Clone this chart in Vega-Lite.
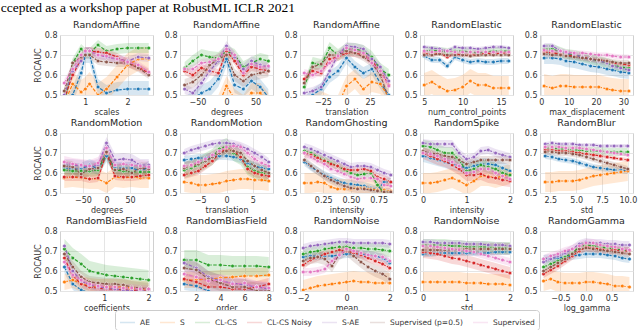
{
"$schema": "https://vega.github.io/schema/vega-lite/v6.json",
"padding": {"left": 0, "top": 0, "right": 0, "bottom": 0},
"title": {"text": "ccepted as a workshop paper at RobustML ICLR 2021", "anchor": "start", "font": "Liberation Serif", "fontSize": 13.5, "fontWeight": "normal", "color": "black", "dx": -33, "dy": -3, "offset": 2},
"bounds": "full",
"spacing": 0,
"resolve": {"scale": {"x": "independent", "y": "independent", "color": "shared"}, "axis": {"x": "independent", "y": "independent"}, "legend": {"color": "shared"}},
"vconcat": [
{"hconcat": [
{"title": "RandomAffine", "width": 93, "height": 60,
"data": {"values": [
{"s":"AE","x":0.5,"y":0.42},{"s":"AE","x":0.7,"y":0.5},{"s":"AE","x":0.9,"y":0.61},{"s":"AE","x":1,"y":0.7},{"s":"AE","x":1.1,"y":0.7},{"s":"AE","x":1.3,"y":0.54},{"s":"AE","x":1.5,"y":0.51},{"s":"AE","x":1.75,"y":0.525},{"s":"AE","x":2,"y":0.53},{"s":"AE","x":2.25,"y":0.53},{"s":"AE","x":2.5,"y":0.53},
{"s":"S","x":0.5,"y":0.46},{"s":"S","x":0.7,"y":0.555},{"s":"S","x":0.9,"y":0.515},{"s":"S","x":1,"y":0.53},{"s":"S","x":1.1,"y":0.555},{"s":"S","x":1.3,"y":0.5},{"s":"S","x":1.5,"y":0.53},{"s":"S","x":1.75,"y":0.59},{"s":"S","x":2,"y":0.65},{"s":"S","x":2.25,"y":0.68},{"s":"S","x":2.5,"y":0.68},
{"s":"C","x":0.5,"y":0.45},{"s":"C","x":0.7,"y":0.66},{"s":"C","x":0.9,"y":0.73},{"s":"C","x":1,"y":0.71},{"s":"C","x":1.1,"y":0.71},{"s":"C","x":1.3,"y":0.75},{"s":"C","x":1.5,"y":0.72},{"s":"C","x":1.75,"y":0.73},{"s":"C","x":2,"y":0.735},{"s":"C","x":2.25,"y":0.735},{"s":"C","x":2.5,"y":0.735},
{"s":"N","x":0.5,"y":0.48},{"s":"N","x":0.7,"y":0.6},{"s":"N","x":0.9,"y":0.68},{"s":"N","x":1,"y":0.72},{"s":"N","x":1.1,"y":0.72},{"s":"N","x":1.3,"y":0.715},{"s":"N","x":1.5,"y":0.71},{"s":"N","x":1.75,"y":0.69},{"s":"N","x":2,"y":0.66},{"s":"N","x":2.25,"y":0.64},{"s":"N","x":2.5,"y":0.61},
{"s":"SA","x":0.5,"y":0.5},{"s":"SA","x":0.7,"y":0.62},{"s":"SA","x":0.9,"y":0.67},{"s":"SA","x":1,"y":0.71},{"s":"SA","x":1.1,"y":0.72},{"s":"SA","x":1.3,"y":0.7},{"s":"SA","x":1.5,"y":0.69},{"s":"SA","x":1.75,"y":0.68},{"s":"SA","x":2,"y":0.67},{"s":"SA","x":2.25,"y":0.69},{"s":"SA","x":2.5,"y":0.685},
{"s":"SP","x":0.5,"y":0.52},{"s":"SP","x":0.7,"y":0.66},{"s":"SP","x":0.9,"y":0.69},{"s":"SP","x":1,"y":0.7},{"s":"SP","x":1.1,"y":0.7},{"s":"SP","x":1.3,"y":0.67},{"s":"SP","x":1.5,"y":0.665},{"s":"SP","x":1.75,"y":0.66},{"s":"SP","x":2,"y":0.66},{"s":"SP","x":2.25,"y":0.635},{"s":"SP","x":2.5,"y":0.6},
{"s":"SU","x":0.5,"y":0.56},{"s":"SU","x":0.7,"y":0.63},{"s":"SU","x":0.9,"y":0.7},{"s":"SU","x":1,"y":0.72},{"s":"SU","x":1.1,"y":0.72},{"s":"SU","x":1.3,"y":0.7},{"s":"SU","x":1.5,"y":0.695},{"s":"SU","x":1.75,"y":0.68},{"s":"SU","x":2,"y":0.665},{"s":"SU","x":2.25,"y":0.65},{"s":"SU","x":2.5,"y":0.615}
]},
"transform": [{"lookup": "s", "from": {"data": {"values": [{"s":"AE","e":0.04},{"s":"S","e":0.06},{"s":"C","e":0.025},{"s":"N","e":0.02},{"s":"SA","e":0.02},{"s":"SP","e":0.02},{"s":"SU","e":0.02}]}, "key": "s", "fields": ["e"]}}],
"encoding": {
"x": {"field": "x", "type": "quantitative", "scale": {"domain": [0.4, 2.6], "nice": false, "zero": false}, "axis": {"values": [1, 2], "title": "scales"}},
"y": {"field": "y", "type": "quantitative", "scale": {"domain": [0.5, 0.8], "nice": false, "zero": false}, "axis": {"values": [0.5, 0.6, 0.7, 0.8], "format": ".1f", "title": "ROCAUC"}},
"color": {"field": "s", "type": "nominal", "scale": {"domain": ["AE","S","C","N","SA","SP","SU"]}, "legend": {"title": null, "orient": "none", "legendX": 55, "legendY": 275, "direction": "horizontal", "columns": 7, "symbolType": "stroke", "labelExpr": "{'AE':'AE','S':'S','C':'CL-CS','N':'CL-CS Noisy','SA':'S-AE','SP':'Supervised (p=0.5)','SU':'Supervised'}[datum.label]"}}
},
"layer": [
{"mark": {"type": "errorband", "clip": true, "band": {"opacity": 0.18}}, "encoding": {"yError": {"field": "e"}}},
{"mark": {"type": "line", "clip": true, "strokeWidth": 1.2, "strokeDash": [3.5, 1.5]}},
{"mark": {"type": "point", "clip": true, "filled": true, "size": 14, "stroke": "white", "strokeWidth": 0.5, "opacity": 1}}
]},
{"title": "RandomAffine", "width": 93, "height": 60,
"data": {"values": [
{"s":"AE","x":-72,"y":0.45},{"s":"AE","x":-58,"y":0.48},{"s":"AE","x":-43,"y":0.51},{"s":"AE","x":-29,"y":0.53},{"s":"AE","x":-14,"y":0.58},{"s":"AE","x":0,"y":0.68},{"s":"AE","x":14,"y":0.55},{"s":"AE","x":29,"y":0.53},{"s":"AE","x":43,"y":0.57},{"s":"AE","x":58,"y":0.54},{"s":"AE","x":72,"y":0.49},
{"s":"S","x":-72,"y":0.44},{"s":"S","x":-58,"y":0.45},{"s":"S","x":-43,"y":0.45},{"s":"S","x":-29,"y":0.44},{"s":"S","x":-14,"y":0.45},{"s":"S","x":0,"y":0.545},{"s":"S","x":14,"y":0.48},{"s":"S","x":29,"y":0.45},{"s":"S","x":43,"y":0.51},{"s":"S","x":58,"y":0.51},{"s":"S","x":72,"y":0.46},
{"s":"C","x":-72,"y":0.635},{"s":"C","x":-58,"y":0.67},{"s":"C","x":-43,"y":0.7},{"s":"C","x":-29,"y":0.69},{"s":"C","x":-14,"y":0.685},{"s":"C","x":0,"y":0.72},{"s":"C","x":14,"y":0.7},{"s":"C","x":29,"y":0.64},{"s":"C","x":43,"y":0.66},{"s":"C","x":58,"y":0.68},{"s":"C","x":72,"y":0.67},
{"s":"N","x":-72,"y":0.62},{"s":"N","x":-58,"y":0.6},{"s":"N","x":-43,"y":0.635},{"s":"N","x":-29,"y":0.62},{"s":"N","x":-14,"y":0.61},{"s":"N","x":0,"y":0.72},{"s":"N","x":14,"y":0.67},{"s":"N","x":29,"y":0.6},{"s":"N","x":43,"y":0.64},{"s":"N","x":58,"y":0.63},{"s":"N","x":72,"y":0.62},
{"s":"SA","x":-72,"y":0.53},{"s":"SA","x":-58,"y":0.51},{"s":"SA","x":-43,"y":0.56},{"s":"SA","x":-29,"y":0.62},{"s":"SA","x":-14,"y":0.67},{"s":"SA","x":0,"y":0.745},{"s":"SA","x":14,"y":0.69},{"s":"SA","x":29,"y":0.63},{"s":"SA","x":43,"y":0.67},{"s":"SA","x":58,"y":0.65},{"s":"SA","x":72,"y":0.64},
{"s":"SP","x":-72,"y":0.55},{"s":"SP","x":-58,"y":0.565},{"s":"SP","x":-43,"y":0.6},{"s":"SP","x":-29,"y":0.65},{"s":"SP","x":-14,"y":0.68},{"s":"SP","x":0,"y":0.7},{"s":"SP","x":14,"y":0.6},{"s":"SP","x":29,"y":0.57},{"s":"SP","x":43,"y":0.6},{"s":"SP","x":58,"y":0.61},{"s":"SP","x":72,"y":0.62},
{"s":"SU","x":-72,"y":0.63},{"s":"SU","x":-58,"y":0.63},{"s":"SU","x":-43,"y":0.66},{"s":"SU","x":-29,"y":0.665},{"s":"SU","x":-14,"y":0.68},{"s":"SU","x":0,"y":0.73},{"s":"SU","x":14,"y":0.7},{"s":"SU","x":29,"y":0.61},{"s":"SU","x":43,"y":0.655},{"s":"SU","x":58,"y":0.64},{"s":"SU","x":72,"y":0.645}
]},
"transform": [{"lookup": "s", "from": {"data": {"values": [{"s":"AE","e":0.04},{"s":"S","e":0.05},{"s":"C","e":0.03},{"s":"N","e":0.02},{"s":"SA","e":0.025},{"s":"SP","e":0.03},{"s":"SU","e":0.02}]}, "key": "s", "fields": ["e"]}}],
"encoding": {
"x": {"field": "x", "type": "quantitative", "scale": {"domain": [-80, 80], "nice": false, "zero": false}, "axis": {"values": [-50, 0, 50], "title": "degrees"}},
"y": {"field": "y", "type": "quantitative", "scale": {"domain": [0.5, 0.8], "nice": false, "zero": false}, "axis": {"values": [0.5, 0.6, 0.7, 0.8], "format": ".1f", "title": null}},
"color": {"field": "s", "type": "nominal", "scale": {"domain": ["AE","S","C","N","SA","SP","SU"]}}
},
"layer": [
{"mark": {"type": "errorband", "clip": true, "band": {"opacity": 0.18}}, "encoding": {"yError": {"field": "e"}}},
{"mark": {"type": "line", "clip": true, "strokeWidth": 1.2, "strokeDash": [3.5, 1.5]}},
{"mark": {"type": "point", "clip": true, "filled": true, "size": 14, "stroke": "white", "strokeWidth": 0.5, "opacity": 1}}
]},
{"title": "RandomAffine", "width": 93, "height": 60,
"data": {"values": [
{"s":"AE","x":-45,"y":0.46},{"s":"AE","x":-36,"y":0.5},{"s":"AE","x":-27,"y":0.53},{"s":"AE","x":-18,"y":0.59},{"s":"AE","x":-9,"y":0.62},{"s":"AE","x":0,"y":0.685},{"s":"AE","x":9,"y":0.64},{"s":"AE","x":18,"y":0.61},{"s":"AE","x":27,"y":0.63},{"s":"AE","x":36,"y":0.56},{"s":"AE","x":45,"y":0.5},
{"s":"S","x":-45,"y":0.44},{"s":"S","x":-36,"y":0.45},{"s":"S","x":-27,"y":0.47},{"s":"S","x":-18,"y":0.45},{"s":"S","x":-9,"y":0.45},{"s":"S","x":0,"y":0.545},{"s":"S","x":9,"y":0.58},{"s":"S","x":18,"y":0.53},{"s":"S","x":27,"y":0.565},{"s":"S","x":36,"y":0.555},{"s":"S","x":45,"y":0.49},
{"s":"C","x":-45,"y":0.54},{"s":"C","x":-36,"y":0.66},{"s":"C","x":-27,"y":0.65},{"s":"C","x":-18,"y":0.735},{"s":"C","x":-9,"y":0.7},{"s":"C","x":0,"y":0.73},{"s":"C","x":9,"y":0.73},{"s":"C","x":18,"y":0.72},{"s":"C","x":27,"y":0.69},{"s":"C","x":36,"y":0.63},{"s":"C","x":45,"y":0.6},
{"s":"N","x":-45,"y":0.58},{"s":"N","x":-36,"y":0.62},{"s":"N","x":-27,"y":0.61},{"s":"N","x":-18,"y":0.68},{"s":"N","x":-9,"y":0.69},{"s":"N","x":0,"y":0.71},{"s":"N","x":9,"y":0.71},{"s":"N","x":18,"y":0.7},{"s":"N","x":27,"y":0.67},{"s":"N","x":36,"y":0.62},{"s":"N","x":45,"y":0.55},
{"s":"SA","x":-45,"y":0.51},{"s":"SA","x":-36,"y":0.52},{"s":"SA","x":-27,"y":0.54},{"s":"SA","x":-18,"y":0.62},{"s":"SA","x":-9,"y":0.7},{"s":"SA","x":0,"y":0.745},{"s":"SA","x":9,"y":0.74},{"s":"SA","x":18,"y":0.73},{"s":"SA","x":27,"y":0.68},{"s":"SA","x":36,"y":0.64},{"s":"SA","x":45,"y":0.57},
{"s":"SP","x":-45,"y":0.56},{"s":"SP","x":-36,"y":0.64},{"s":"SP","x":-27,"y":0.655},{"s":"SP","x":-18,"y":0.7},{"s":"SP","x":-9,"y":0.7},{"s":"SP","x":0,"y":0.72},{"s":"SP","x":9,"y":0.71},{"s":"SP","x":18,"y":0.69},{"s":"SP","x":27,"y":0.66},{"s":"SP","x":36,"y":0.6},{"s":"SP","x":45,"y":0.48},
{"s":"SU","x":-45,"y":0.61},{"s":"SU","x":-36,"y":0.6},{"s":"SU","x":-27,"y":0.62},{"s":"SU","x":-18,"y":0.66},{"s":"SU","x":-9,"y":0.695},{"s":"SU","x":0,"y":0.735},{"s":"SU","x":9,"y":0.725},{"s":"SU","x":18,"y":0.71},{"s":"SU","x":27,"y":0.66},{"s":"SU","x":36,"y":0.62},{"s":"SU","x":45,"y":0.545}
]},
"transform": [{"lookup": "s", "from": {"data": {"values": [{"s":"AE","e":0.03},{"s":"S","e":0.05},{"s":"C","e":0.03},{"s":"N","e":0.02},{"s":"SA","e":0.02},{"s":"SP","e":0.02},{"s":"SU","e":0.02}]}, "key": "s", "fields": ["e"]}}],
"encoding": {
"x": {"field": "x", "type": "quantitative", "scale": {"domain": [-49.5, 49.5], "nice": false, "zero": false}, "axis": {"values": [-25, 0, 25], "title": "translation"}},
"y": {"field": "y", "type": "quantitative", "scale": {"domain": [0.5, 0.8], "nice": false, "zero": false}, "axis": {"values": [0.5, 0.6, 0.7, 0.8], "format": ".1f", "title": null}},
"color": {"field": "s", "type": "nominal", "scale": {"domain": ["AE","S","C","N","SA","SP","SU"]}}
},
"layer": [
{"mark": {"type": "errorband", "clip": true, "band": {"opacity": 0.18}}, "encoding": {"yError": {"field": "e"}}},
{"mark": {"type": "line", "clip": true, "strokeWidth": 1.2, "strokeDash": [3.5, 1.5]}},
{"mark": {"type": "point", "clip": true, "filled": true, "size": 14, "stroke": "white", "strokeWidth": 0.5, "opacity": 1}}
]},
{"title": "RandomElastic", "width": 93, "height": 60,
"data": {"values": [
{"s":"AE","x":5,"y":0.695},{"s":"AE","x":6,"y":0.675},{"s":"AE","x":7,"y":0.675},{"s":"AE","x":8,"y":0.645},{"s":"AE","x":9,"y":0.69},{"s":"AE","x":10,"y":0.675},{"s":"AE","x":11,"y":0.665},{"s":"AE","x":12,"y":0.67},{"s":"AE","x":13,"y":0.665},{"s":"AE","x":14,"y":0.665},{"s":"AE","x":15,"y":0.67},{"s":"AE","x":16,"y":0.67},
{"s":"S","x":5,"y":0.55},{"s":"S","x":6,"y":0.565},{"s":"S","x":7,"y":0.54},{"s":"S","x":8,"y":0.52},{"s":"S","x":9,"y":0.525},{"s":"S","x":10,"y":0.54},{"s":"S","x":11,"y":0.57},{"s":"S","x":12,"y":0.55},{"s":"S","x":13,"y":0.55},{"s":"S","x":14,"y":0.535},{"s":"S","x":15,"y":0.535},{"s":"S","x":16,"y":0.535},
{"s":"C","x":5,"y":0.72},{"s":"C","x":6,"y":0.725},{"s":"C","x":7,"y":0.72},{"s":"C","x":8,"y":0.715},{"s":"C","x":9,"y":0.72},{"s":"C","x":10,"y":0.72},{"s":"C","x":11,"y":0.715},{"s":"C","x":12,"y":0.71},{"s":"C","x":13,"y":0.715},{"s":"C","x":14,"y":0.72},{"s":"C","x":15,"y":0.72},{"s":"C","x":16,"y":0.72},
{"s":"N","x":5,"y":0.71},{"s":"N","x":6,"y":0.7},{"s":"N","x":7,"y":0.71},{"s":"N","x":8,"y":0.69},{"s":"N","x":9,"y":0.705},{"s":"N","x":10,"y":0.7},{"s":"N","x":11,"y":0.7},{"s":"N","x":12,"y":0.7},{"s":"N","x":13,"y":0.71},{"s":"N","x":14,"y":0.705},{"s":"N","x":15,"y":0.71},{"s":"N","x":16,"y":0.71},
{"s":"SA","x":5,"y":0.74},{"s":"SA","x":6,"y":0.735},{"s":"SA","x":7,"y":0.73},{"s":"SA","x":8,"y":0.72},{"s":"SA","x":9,"y":0.74},{"s":"SA","x":10,"y":0.735},{"s":"SA","x":11,"y":0.735},{"s":"SA","x":12,"y":0.73},{"s":"SA","x":13,"y":0.735},{"s":"SA","x":14,"y":0.74},{"s":"SA","x":15,"y":0.74},{"s":"SA","x":16,"y":0.735},
{"s":"SP","x":5,"y":0.7},{"s":"SP","x":6,"y":0.7},{"s":"SP","x":7,"y":0.705},{"s":"SP","x":8,"y":0.7},{"s":"SP","x":9,"y":0.7},{"s":"SP","x":10,"y":0.7},{"s":"SP","x":11,"y":0.695},{"s":"SP","x":12,"y":0.7},{"s":"SP","x":13,"y":0.7},{"s":"SP","x":14,"y":0.7},{"s":"SP","x":15,"y":0.7},{"s":"SP","x":16,"y":0.7},
{"s":"SU","x":5,"y":0.72},{"s":"SU","x":6,"y":0.715},{"s":"SU","x":7,"y":0.72},{"s":"SU","x":8,"y":0.72},{"s":"SU","x":9,"y":0.715},{"s":"SU","x":10,"y":0.715},{"s":"SU","x":11,"y":0.715},{"s":"SU","x":12,"y":0.715},{"s":"SU","x":13,"y":0.715},{"s":"SU","x":14,"y":0.715},{"s":"SU","x":15,"y":0.715},{"s":"SU","x":16,"y":0.715}
]},
"transform": [{"lookup": "s", "from": {"data": {"values": [{"s":"AE","e":0.015},{"s":"S","e":0.06},{"s":"C","e":0.02},{"s":"N","e":0.01},{"s":"SA","e":0.01},{"s":"SP","e":0.01},{"s":"SU","e":0.01}]}, "key": "s", "fields": ["e"]}}],
"encoding": {
"x": {"field": "x", "type": "quantitative", "scale": {"domain": [4.45, 16.55], "nice": false, "zero": false}, "axis": {"values": [5, 10, 15], "title": "num_control_points"}},
"y": {"field": "y", "type": "quantitative", "scale": {"domain": [0.5, 0.8], "nice": false, "zero": false}, "axis": {"values": [0.5, 0.6, 0.7, 0.8], "format": ".1f", "title": null}},
"color": {"field": "s", "type": "nominal", "scale": {"domain": ["AE","S","C","N","SA","SP","SU"]}}
},
"layer": [
{"mark": {"type": "errorband", "clip": true, "band": {"opacity": 0.18}}, "encoding": {"yError": {"field": "e"}}},
{"mark": {"type": "line", "clip": true, "strokeWidth": 1.2, "strokeDash": [3.5, 1.5]}},
{"mark": {"type": "point", "clip": true, "filled": true, "size": 14, "stroke": "white", "strokeWidth": 0.5, "opacity": 1}}
]},
{"title": "RandomElastic", "width": 93, "height": 60,
"data": {"values": [
{"s":"AE","x":1,"y":0.685},{"s":"AE","x":4,"y":0.685},{"s":"AE","x":7,"y":0.68},{"s":"AE","x":9,"y":0.67},{"s":"AE","x":12,"y":0.665},{"s":"AE","x":15,"y":0.655},{"s":"AE","x":18,"y":0.645},{"s":"AE","x":21,"y":0.64},{"s":"AE","x":24,"y":0.63},{"s":"AE","x":26,"y":0.625},{"s":"AE","x":29,"y":0.615},{"s":"AE","x":32,"y":0.61},
{"s":"S","x":1,"y":0.545},{"s":"S","x":4,"y":0.535},{"s":"S","x":7,"y":0.545},{"s":"S","x":9,"y":0.545},{"s":"S","x":12,"y":0.54},{"s":"S","x":15,"y":0.54},{"s":"S","x":18,"y":0.54},{"s":"S","x":21,"y":0.54},{"s":"S","x":24,"y":0.53},{"s":"S","x":26,"y":0.525},{"s":"S","x":29,"y":0.52},{"s":"S","x":32,"y":0.52},
{"s":"C","x":1,"y":0.73},{"s":"C","x":4,"y":0.73},{"s":"C","x":7,"y":0.715},{"s":"C","x":9,"y":0.705},{"s":"C","x":12,"y":0.7},{"s":"C","x":15,"y":0.69},{"s":"C","x":18,"y":0.68},{"s":"C","x":21,"y":0.67},{"s":"C","x":24,"y":0.66},{"s":"C","x":26,"y":0.65},{"s":"C","x":29,"y":0.64},{"s":"C","x":32,"y":0.635},
{"s":"N","x":1,"y":0.715},{"s":"N","x":4,"y":0.71},{"s":"N","x":7,"y":0.705},{"s":"N","x":9,"y":0.7},{"s":"N","x":12,"y":0.695},{"s":"N","x":15,"y":0.69},{"s":"N","x":18,"y":0.68},{"s":"N","x":21,"y":0.675},{"s":"N","x":24,"y":0.67},{"s":"N","x":26,"y":0.66},{"s":"N","x":29,"y":0.655},{"s":"N","x":32,"y":0.65},
{"s":"SA","x":1,"y":0.745},{"s":"SA","x":4,"y":0.745},{"s":"SA","x":7,"y":0.72},{"s":"SA","x":9,"y":0.71},{"s":"SA","x":12,"y":0.7},{"s":"SA","x":15,"y":0.69},{"s":"SA","x":18,"y":0.68},{"s":"SA","x":21,"y":0.67},{"s":"SA","x":24,"y":0.66},{"s":"SA","x":26,"y":0.645},{"s":"SA","x":29,"y":0.635},{"s":"SA","x":32,"y":0.625},
{"s":"SP","x":1,"y":0.705},{"s":"SP","x":4,"y":0.7},{"s":"SP","x":7,"y":0.7},{"s":"SP","x":9,"y":0.695},{"s":"SP","x":12,"y":0.69},{"s":"SP","x":15,"y":0.685},{"s":"SP","x":18,"y":0.68},{"s":"SP","x":21,"y":0.675},{"s":"SP","x":24,"y":0.67},{"s":"SP","x":26,"y":0.665},{"s":"SP","x":29,"y":0.66},{"s":"SP","x":32,"y":0.66},
{"s":"SU","x":1,"y":0.725},{"s":"SU","x":4,"y":0.72},{"s":"SU","x":7,"y":0.72},{"s":"SU","x":9,"y":0.715},{"s":"SU","x":12,"y":0.71},{"s":"SU","x":15,"y":0.71},{"s":"SU","x":18,"y":0.705},{"s":"SU","x":21,"y":0.7},{"s":"SU","x":24,"y":0.7},{"s":"SU","x":26,"y":0.695},{"s":"SU","x":29,"y":0.69},{"s":"SU","x":32,"y":0.69}
]},
"transform": [{"lookup": "s", "from": {"data": {"values": [{"s":"AE","e":0.03},{"s":"S","e":0.06},{"s":"C","e":0.025},{"s":"N","e":0.01},{"s":"SA","e":0.015},{"s":"SP","e":0.015},{"s":"SU","e":0.012}]}, "key": "s", "fields": ["e"]}}],
"encoding": {
"x": {"field": "x", "type": "quantitative", "scale": {"domain": [-0.5, 33.5], "nice": false, "zero": false}, "axis": {"values": [0, 10, 20, 30], "title": "max_displacement"}},
"y": {"field": "y", "type": "quantitative", "scale": {"domain": [0.5, 0.8], "nice": false, "zero": false}, "axis": {"values": [0.5, 0.6, 0.7, 0.8], "format": ".1f", "title": null}},
"color": {"field": "s", "type": "nominal", "scale": {"domain": ["AE","S","C","N","SA","SP","SU"]}}
},
"layer": [
{"mark": {"type": "errorband", "clip": true, "band": {"opacity": 0.18}}, "encoding": {"yError": {"field": "e"}}},
{"mark": {"type": "line", "clip": true, "strokeWidth": 1.2, "strokeDash": [3.5, 1.5]}},
{"mark": {"type": "point", "clip": true, "filled": true, "size": 14, "stroke": "white", "strokeWidth": 0.5, "opacity": 1}}
]}
], "spacing": 27, "bounds": "flush", "resolve": {"scale": {"x": "independent", "y": "independent", "color": "shared"}, "axis": {"x": "independent", "y": "independent"}}},
{"hconcat": [
{"title": "RandomMotion", "width": 93, "height": 60,
"data": {"values": [
{"s":"AE","x":-90,"y":0.625},{"s":"AE","x":-72,"y":0.62},{"s":"AE","x":-54,"y":0.62},{"s":"AE","x":-36,"y":0.64},{"s":"AE","x":-18,"y":0.62},{"s":"AE","x":0,"y":0.685},{"s":"AE","x":18,"y":0.625},{"s":"AE","x":36,"y":0.625},{"s":"AE","x":54,"y":0.625},{"s":"AE","x":72,"y":0.61},{"s":"AE","x":90,"y":0.63},
{"s":"S","x":-90,"y":0.575},{"s":"S","x":-72,"y":0.58},{"s":"S","x":-54,"y":0.575},{"s":"S","x":-36,"y":0.57},{"s":"S","x":-18,"y":0.57},{"s":"S","x":0,"y":0.55},{"s":"S","x":18,"y":0.58},{"s":"S","x":36,"y":0.575},{"s":"S","x":54,"y":0.58},{"s":"S","x":72,"y":0.575},{"s":"S","x":90,"y":0.575},
{"s":"C","x":-90,"y":0.615},{"s":"C","x":-72,"y":0.61},{"s":"C","x":-54,"y":0.61},{"s":"C","x":-36,"y":0.61},{"s":"C","x":-18,"y":0.615},{"s":"C","x":0,"y":0.7},{"s":"C","x":18,"y":0.615},{"s":"C","x":36,"y":0.61},{"s":"C","x":54,"y":0.605},{"s":"C","x":72,"y":0.605},{"s":"C","x":90,"y":0.605},
{"s":"N","x":-90,"y":0.58},{"s":"N","x":-72,"y":0.58},{"s":"N","x":-54,"y":0.58},{"s":"N","x":-36,"y":0.57},{"s":"N","x":-18,"y":0.575},{"s":"N","x":0,"y":0.7},{"s":"N","x":18,"y":0.585},{"s":"N","x":36,"y":0.58},{"s":"N","x":54,"y":0.58},{"s":"N","x":72,"y":0.585},{"s":"N","x":90,"y":0.59},
{"s":"SA","x":-90,"y":0.64},{"s":"SA","x":-72,"y":0.64},{"s":"SA","x":-54,"y":0.635},{"s":"SA","x":-36,"y":0.63},{"s":"SA","x":-18,"y":0.64},{"s":"SA","x":0,"y":0.75},{"s":"SA","x":18,"y":0.665},{"s":"SA","x":36,"y":0.67},{"s":"SA","x":54,"y":0.665},{"s":"SA","x":72,"y":0.64},{"s":"SA","x":90,"y":0.64},
{"s":"SP","x":-90,"y":0.635},{"s":"SP","x":-72,"y":0.63},{"s":"SP","x":-54,"y":0.595},{"s":"SP","x":-36,"y":0.62},{"s":"SP","x":-18,"y":0.625},{"s":"SP","x":0,"y":0.705},{"s":"SP","x":18,"y":0.615},{"s":"SP","x":36,"y":0.62},{"s":"SP","x":54,"y":0.6},{"s":"SP","x":72,"y":0.625},{"s":"SP","x":90,"y":0.62},
{"s":"SU","x":-90,"y":0.655},{"s":"SU","x":-72,"y":0.645},{"s":"SU","x":-54,"y":0.64},{"s":"SU","x":-36,"y":0.635},{"s":"SU","x":-18,"y":0.65},{"s":"SU","x":0,"y":0.725},{"s":"SU","x":18,"y":0.64},{"s":"SU","x":36,"y":0.645},{"s":"SU","x":54,"y":0.64},{"s":"SU","x":72,"y":0.635},{"s":"SU","x":90,"y":0.63}
]},
"transform": [{"lookup": "s", "from": {"data": {"values": [{"s":"AE","e":0.03},{"s":"S","e":0.05},{"s":"C","e":0.03},{"s":"N","e":0.02},{"s":"SA","e":0.03},{"s":"SP","e":0.03},{"s":"SU","e":0.03}]}, "key": "s", "fields": ["e"]}}],
"encoding": {
"x": {"field": "x", "type": "quantitative", "scale": {"domain": [-99, 99], "nice": false, "zero": false}, "axis": {"values": [-50, 0, 50], "title": "degrees"}},
"y": {"field": "y", "type": "quantitative", "scale": {"domain": [0.5, 0.8], "nice": false, "zero": false}, "axis": {"values": [0.5, 0.6, 0.7, 0.8], "format": ".1f", "title": "ROCAUC"}},
"color": {"field": "s", "type": "nominal", "scale": {"domain": ["AE","S","C","N","SA","SP","SU"]}}
},
"layer": [
{"mark": {"type": "errorband", "clip": true, "band": {"opacity": 0.18}}, "encoding": {"yError": {"field": "e"}}},
{"mark": {"type": "line", "clip": true, "strokeWidth": 1.2, "strokeDash": [3.5, 1.5]}},
{"mark": {"type": "point", "clip": true, "filled": true, "size": 14, "stroke": "white", "strokeWidth": 0.5, "opacity": 1}}
]},
{"title": "RandomMotion", "width": 93, "height": 60,
"data": {"values": [
{"s":"AE","x":-8,"y":0.665},{"s":"AE","x":-6.67,"y":0.67},{"s":"AE","x":-5.33,"y":0.675},{"s":"AE","x":-4,"y":0.675},{"s":"AE","x":-2.67,"y":0.68},{"s":"AE","x":-1.33,"y":0.685},{"s":"AE","x":0,"y":0.685},{"s":"AE","x":1.33,"y":0.68},{"s":"AE","x":2.67,"y":0.67},{"s":"AE","x":4,"y":0.65},{"s":"AE","x":5.33,"y":0.635},{"s":"AE","x":6.67,"y":0.625},{"s":"AE","x":8,"y":0.62},
{"s":"S","x":-8,"y":0.555},{"s":"S","x":-6.67,"y":0.55},{"s":"S","x":-5.33,"y":0.54},{"s":"S","x":-4,"y":0.54},{"s":"S","x":-2.67,"y":0.545},{"s":"S","x":-1.33,"y":0.55},{"s":"S","x":0,"y":0.56},{"s":"S","x":1.33,"y":0.565},{"s":"S","x":2.67,"y":0.57},{"s":"S","x":4,"y":0.57},{"s":"S","x":5.33,"y":0.565},{"s":"S","x":6.67,"y":0.565},{"s":"S","x":8,"y":0.56},
{"s":"C","x":-8,"y":0.615},{"s":"C","x":-6.67,"y":0.625},{"s":"C","x":-5.33,"y":0.64},{"s":"C","x":-4,"y":0.66},{"s":"C","x":-2.67,"y":0.68},{"s":"C","x":-1.33,"y":0.72},{"s":"C","x":0,"y":0.735},{"s":"C","x":1.33,"y":0.7},{"s":"C","x":2.67,"y":0.68},{"s":"C","x":4,"y":0.63},{"s":"C","x":5.33,"y":0.61},{"s":"C","x":6.67,"y":0.6},{"s":"C","x":8,"y":0.595},
{"s":"N","x":-8,"y":0.59},{"s":"N","x":-6.67,"y":0.6},{"s":"N","x":-5.33,"y":0.61},{"s":"N","x":-4,"y":0.635},{"s":"N","x":-2.67,"y":0.66},{"s":"N","x":-1.33,"y":0.7},{"s":"N","x":0,"y":0.72},{"s":"N","x":1.33,"y":0.71},{"s":"N","x":2.67,"y":0.68},{"s":"N","x":4,"y":0.62},{"s":"N","x":5.33,"y":0.6},{"s":"N","x":6.67,"y":0.59},{"s":"N","x":8,"y":0.585},
{"s":"SA","x":-8,"y":0.7},{"s":"SA","x":-6.67,"y":0.715},{"s":"SA","x":-5.33,"y":0.725},{"s":"SA","x":-4,"y":0.735},{"s":"SA","x":-2.67,"y":0.745},{"s":"SA","x":-1.33,"y":0.75},{"s":"SA","x":0,"y":0.75},{"s":"SA","x":1.33,"y":0.745},{"s":"SA","x":2.67,"y":0.735},{"s":"SA","x":4,"y":0.72},{"s":"SA","x":5.33,"y":0.7},{"s":"SA","x":6.67,"y":0.68},{"s":"SA","x":8,"y":0.655},
{"s":"SP","x":-8,"y":0.625},{"s":"SP","x":-6.67,"y":0.635},{"s":"SP","x":-5.33,"y":0.645},{"s":"SP","x":-4,"y":0.66},{"s":"SP","x":-2.67,"y":0.68},{"s":"SP","x":-1.33,"y":0.7},{"s":"SP","x":0,"y":0.71},{"s":"SP","x":1.33,"y":0.71},{"s":"SP","x":2.67,"y":0.7},{"s":"SP","x":4,"y":0.66},{"s":"SP","x":5.33,"y":0.635},{"s":"SP","x":6.67,"y":0.615},{"s":"SP","x":8,"y":0.6},
{"s":"SU","x":-8,"y":0.635},{"s":"SU","x":-6.67,"y":0.64},{"s":"SU","x":-5.33,"y":0.655},{"s":"SU","x":-4,"y":0.67},{"s":"SU","x":-2.67,"y":0.69},{"s":"SU","x":-1.33,"y":0.71},{"s":"SU","x":0,"y":0.73},{"s":"SU","x":1.33,"y":0.735},{"s":"SU","x":2.67,"y":0.73},{"s":"SU","x":4,"y":0.7},{"s":"SU","x":5.33,"y":0.67},{"s":"SU","x":6.67,"y":0.65},{"s":"SU","x":8,"y":0.635}
]},
"transform": [{"lookup": "s", "from": {"data": {"values": [{"s":"AE","e":0.02},{"s":"S","e":0.05},{"s":"C","e":0.04},{"s":"N","e":0.02},{"s":"SA","e":0.02},{"s":"SP","e":0.03},{"s":"SU","e":0.02}]}, "key": "s", "fields": ["e"]}}],
"encoding": {
"x": {"field": "x", "type": "quantitative", "scale": {"domain": [-8.8, 8.8], "nice": false, "zero": false}, "axis": {"values": [-5, 0, 5], "title": "translation"}},
"y": {"field": "y", "type": "quantitative", "scale": {"domain": [0.5, 0.8], "nice": false, "zero": false}, "axis": {"values": [0.5, 0.6, 0.7, 0.8], "format": ".1f", "title": null}},
"color": {"field": "s", "type": "nominal", "scale": {"domain": ["AE","S","C","N","SA","SP","SU"]}}
},
"layer": [
{"mark": {"type": "errorband", "clip": true, "band": {"opacity": 0.18}}, "encoding": {"yError": {"field": "e"}}},
{"mark": {"type": "line", "clip": true, "strokeWidth": 1.2, "strokeDash": [3.5, 1.5]}},
{"mark": {"type": "point", "clip": true, "filled": true, "size": 14, "stroke": "white", "strokeWidth": 0.5, "opacity": 1}}
]},
{"title": "RandomGhosting", "width": 93, "height": 60,
"data": {"values": [
{"s":"AE","x":0.08,"y":0.655},{"s":"AE","x":0.14,"y":0.63},{"s":"AE","x":0.2,"y":0.61},{"s":"AE","x":0.26,"y":0.59},{"s":"AE","x":0.32,"y":0.575},{"s":"AE","x":0.38,"y":0.56},{"s":"AE","x":0.44,"y":0.55},{"s":"AE","x":0.5,"y":0.545},{"s":"AE","x":0.56,"y":0.54},{"s":"AE","x":0.62,"y":0.535},{"s":"AE","x":0.68,"y":0.525},{"s":"AE","x":0.74,"y":0.515},{"s":"AE","x":0.8,"y":0.555},{"s":"AE","x":0.86,"y":0.555},
{"s":"S","x":0.08,"y":0.55},{"s":"S","x":0.14,"y":0.55},{"s":"S","x":0.2,"y":0.555},{"s":"S","x":0.26,"y":0.55},{"s":"S","x":0.32,"y":0.53},{"s":"S","x":0.38,"y":0.52},{"s":"S","x":0.44,"y":0.52},{"s":"S","x":0.5,"y":0.52},{"s":"S","x":0.56,"y":0.525},{"s":"S","x":0.62,"y":0.525},{"s":"S","x":0.68,"y":0.52},{"s":"S","x":0.74,"y":0.515},{"s":"S","x":0.8,"y":0.515},{"s":"S","x":0.86,"y":0.51},
{"s":"C","x":0.08,"y":0.71},{"s":"C","x":0.14,"y":0.7},{"s":"C","x":0.2,"y":0.68},{"s":"C","x":0.26,"y":0.665},{"s":"C","x":0.32,"y":0.65},{"s":"C","x":0.38,"y":0.635},{"s":"C","x":0.44,"y":0.615},{"s":"C","x":0.5,"y":0.6},{"s":"C","x":0.56,"y":0.59},{"s":"C","x":0.62,"y":0.595},{"s":"C","x":0.68,"y":0.6},{"s":"C","x":0.74,"y":0.54},{"s":"C","x":0.8,"y":0.5},{"s":"C","x":0.86,"y":0.49},
{"s":"N","x":0.08,"y":0.7},{"s":"N","x":0.14,"y":0.69},{"s":"N","x":0.2,"y":0.675},{"s":"N","x":0.26,"y":0.66},{"s":"N","x":0.32,"y":0.645},{"s":"N","x":0.38,"y":0.635},{"s":"N","x":0.44,"y":0.62},{"s":"N","x":0.5,"y":0.615},{"s":"N","x":0.56,"y":0.615},{"s":"N","x":0.62,"y":0.62},{"s":"N","x":0.68,"y":0.61},{"s":"N","x":0.74,"y":0.58},{"s":"N","x":0.8,"y":0.57},{"s":"N","x":0.86,"y":0.555},
{"s":"SA","x":0.08,"y":0.73},{"s":"SA","x":0.14,"y":0.72},{"s":"SA","x":0.2,"y":0.705},{"s":"SA","x":0.26,"y":0.69},{"s":"SA","x":0.32,"y":0.675},{"s":"SA","x":0.38,"y":0.66},{"s":"SA","x":0.44,"y":0.645},{"s":"SA","x":0.5,"y":0.63},{"s":"SA","x":0.56,"y":0.635},{"s":"SA","x":0.62,"y":0.635},{"s":"SA","x":0.68,"y":0.63},{"s":"SA","x":0.74,"y":0.615},{"s":"SA","x":0.8,"y":0.6},{"s":"SA","x":0.86,"y":0.59},
{"s":"SP","x":0.08,"y":0.665},{"s":"SP","x":0.14,"y":0.635},{"s":"SP","x":0.2,"y":0.61},{"s":"SP","x":0.26,"y":0.585},{"s":"SP","x":0.32,"y":0.565},{"s":"SP","x":0.38,"y":0.55},{"s":"SP","x":0.44,"y":0.535},{"s":"SP","x":0.5,"y":0.525},{"s":"SP","x":0.56,"y":0.52},{"s":"SP","x":0.62,"y":0.52},{"s":"SP","x":0.68,"y":0.515},{"s":"SP","x":0.74,"y":0.51},{"s":"SP","x":0.8,"y":0.505},{"s":"SP","x":0.86,"y":0.505},
{"s":"SU","x":0.08,"y":0.7},{"s":"SU","x":0.14,"y":0.68},{"s":"SU","x":0.2,"y":0.66},{"s":"SU","x":0.26,"y":0.645},{"s":"SU","x":0.32,"y":0.62},{"s":"SU","x":0.38,"y":0.61},{"s":"SU","x":0.44,"y":0.595},{"s":"SU","x":0.5,"y":0.58},{"s":"SU","x":0.56,"y":0.57},{"s":"SU","x":0.62,"y":0.575},{"s":"SU","x":0.68,"y":0.575},{"s":"SU","x":0.74,"y":0.57},{"s":"SU","x":0.8,"y":0.54},{"s":"SU","x":0.86,"y":0.535}
]},
"transform": [{"lookup": "s", "from": {"data": {"values": [{"s":"AE","e":0.02},{"s":"S","e":0.05},{"s":"C","e":0.02},{"s":"N","e":0.02},{"s":"SA","e":0.02},{"s":"SP","e":0.02},{"s":"SU","e":0.02}]}, "key": "s", "fields": ["e"]}}],
"encoding": {
"x": {"field": "x", "type": "quantitative", "scale": {"domain": [0.04, 0.88], "nice": false, "zero": false}, "axis": {"values": [0.25, 0.5, 0.75], "format": ".2f", "title": "intensity"}},
"y": {"field": "y", "type": "quantitative", "scale": {"domain": [0.5, 0.8], "nice": false, "zero": false}, "axis": {"values": [0.5, 0.6, 0.7, 0.8], "format": ".1f", "title": null}},
"color": {"field": "s", "type": "nominal", "scale": {"domain": ["AE","S","C","N","SA","SP","SU"]}}
},
"layer": [
{"mark": {"type": "errorband", "clip": true, "band": {"opacity": 0.18}}, "encoding": {"yError": {"field": "e"}}},
{"mark": {"type": "line", "clip": true, "strokeWidth": 1.2, "strokeDash": [3.5, 1.5]}},
{"mark": {"type": "point", "clip": true, "filled": true, "size": 14, "stroke": "white", "strokeWidth": 0.5, "opacity": 1}}
]},
{"title": "RandomSpike", "width": 93, "height": 60,
"data": {"values": [
{"s":"AE","x":0,"y":0.685},{"s":"AE","x":0.17,"y":0.675},{"s":"AE","x":0.33,"y":0.665},{"s":"AE","x":0.5,"y":0.655},{"s":"AE","x":0.67,"y":0.645},{"s":"AE","x":0.83,"y":0.635},{"s":"AE","x":1,"y":0.625},{"s":"AE","x":1.17,"y":0.635},{"s":"AE","x":1.33,"y":0.645},{"s":"AE","x":1.5,"y":0.645},{"s":"AE","x":1.67,"y":0.64},{"s":"AE","x":1.83,"y":0.625},{"s":"AE","x":2,"y":0.61},
{"s":"S","x":0,"y":0.55},{"s":"S","x":0.17,"y":0.55},{"s":"S","x":0.33,"y":0.555},{"s":"S","x":0.5,"y":0.565},{"s":"S","x":0.67,"y":0.575},{"s":"S","x":0.83,"y":0.56},{"s":"S","x":1,"y":0.54},{"s":"S","x":1.17,"y":0.56},{"s":"S","x":1.33,"y":0.585},{"s":"S","x":1.5,"y":0.585},{"s":"S","x":1.67,"y":0.575},{"s":"S","x":1.83,"y":0.585},{"s":"S","x":2,"y":0.595},
{"s":"C","x":0,"y":0.735},{"s":"C","x":0.17,"y":0.73},{"s":"C","x":0.33,"y":0.715},{"s":"C","x":0.5,"y":0.7},{"s":"C","x":0.67,"y":0.7},{"s":"C","x":0.83,"y":0.665},{"s":"C","x":1,"y":0.61},{"s":"C","x":1.17,"y":0.62},{"s":"C","x":1.33,"y":0.64},{"s":"C","x":1.5,"y":0.63},{"s":"C","x":1.67,"y":0.62},{"s":"C","x":1.83,"y":0.6},{"s":"C","x":2,"y":0.59},
{"s":"N","x":0,"y":0.7},{"s":"N","x":0.17,"y":0.685},{"s":"N","x":0.33,"y":0.67},{"s":"N","x":0.5,"y":0.66},{"s":"N","x":0.67,"y":0.64},{"s":"N","x":0.83,"y":0.62},{"s":"N","x":1,"y":0.59},{"s":"N","x":1.17,"y":0.59},{"s":"N","x":1.33,"y":0.595},{"s":"N","x":1.5,"y":0.58},{"s":"N","x":1.67,"y":0.575},{"s":"N","x":1.83,"y":0.565},{"s":"N","x":2,"y":0.56},
{"s":"SA","x":0,"y":0.75},{"s":"SA","x":0.17,"y":0.745},{"s":"SA","x":0.33,"y":0.745},{"s":"SA","x":0.5,"y":0.745},{"s":"SA","x":0.67,"y":0.745},{"s":"SA","x":0.83,"y":0.7},{"s":"SA","x":1,"y":0.67},{"s":"SA","x":1.17,"y":0.68},{"s":"SA","x":1.33,"y":0.71},{"s":"SA","x":1.5,"y":0.715},{"s":"SA","x":1.67,"y":0.7},{"s":"SA","x":1.83,"y":0.69},{"s":"SA","x":2,"y":0.68},
{"s":"SP","x":0,"y":0.71},{"s":"SP","x":0.17,"y":0.7},{"s":"SP","x":0.33,"y":0.695},{"s":"SP","x":0.5,"y":0.685},{"s":"SP","x":0.67,"y":0.68},{"s":"SP","x":0.83,"y":0.665},{"s":"SP","x":1,"y":0.645},{"s":"SP","x":1.17,"y":0.655},{"s":"SP","x":1.33,"y":0.665},{"s":"SP","x":1.5,"y":0.665},{"s":"SP","x":1.67,"y":0.665},{"s":"SP","x":1.83,"y":0.665},{"s":"SP","x":2,"y":0.665},
{"s":"SU","x":0,"y":0.7},{"s":"SU","x":0.17,"y":0.695},{"s":"SU","x":0.33,"y":0.685},{"s":"SU","x":0.5,"y":0.67},{"s":"SU","x":0.67,"y":0.655},{"s":"SU","x":0.83,"y":0.635},{"s":"SU","x":1,"y":0.6},{"s":"SU","x":1.17,"y":0.605},{"s":"SU","x":1.33,"y":0.62},{"s":"SU","x":1.5,"y":0.62},{"s":"SU","x":1.67,"y":0.6},{"s":"SU","x":1.83,"y":0.585},{"s":"SU","x":2,"y":0.57}
]},
"transform": [{"lookup": "s", "from": {"data": {"values": [{"s":"AE","e":0.03},{"s":"S","e":0.05},{"s":"C","e":0.03},{"s":"N","e":0.03},{"s":"SA","e":0.02},{"s":"SP","e":0.02},{"s":"SU","e":0.02}]}, "key": "s", "fields": ["e"]}}],
"encoding": {
"x": {"field": "x", "type": "quantitative", "scale": {"domain": [-0.07, 2.07], "nice": false, "zero": false}, "axis": {"values": [0, 1, 2], "title": "intensity"}},
"y": {"field": "y", "type": "quantitative", "scale": {"domain": [0.5, 0.8], "nice": false, "zero": false}, "axis": {"values": [0.5, 0.6, 0.7, 0.8], "format": ".1f", "title": null}},
"color": {"field": "s", "type": "nominal", "scale": {"domain": ["AE","S","C","N","SA","SP","SU"]}}
},
"layer": [
{"mark": {"type": "errorband", "clip": true, "band": {"opacity": 0.18}}, "encoding": {"yError": {"field": "e"}}},
{"mark": {"type": "line", "clip": true, "strokeWidth": 1.2, "strokeDash": [3.5, 1.5]}},
{"mark": {"type": "point", "clip": true, "filled": true, "size": 14, "stroke": "white", "strokeWidth": 0.5, "opacity": 1}}
]},
{"title": "RandomBlur", "width": 93, "height": 60,
"data": {"values": [
{"s":"AE","x":2,"y":0.685},{"s":"AE","x":2.67,"y":0.68},{"s":"AE","x":3.33,"y":0.67},{"s":"AE","x":4,"y":0.665},{"s":"AE","x":4.67,"y":0.66},{"s":"AE","x":5.33,"y":0.65},{"s":"AE","x":6,"y":0.64},{"s":"AE","x":6.67,"y":0.63},{"s":"AE","x":7.33,"y":0.625},{"s":"AE","x":8,"y":0.62},{"s":"AE","x":8.67,"y":0.615},{"s":"AE","x":9.33,"y":0.615},{"s":"AE","x":10,"y":0.61},
{"s":"S","x":2,"y":0.555},{"s":"S","x":2.67,"y":0.555},{"s":"S","x":3.33,"y":0.56},{"s":"S","x":4,"y":0.56},{"s":"S","x":4.67,"y":0.56},{"s":"S","x":5.33,"y":0.565},{"s":"S","x":6,"y":0.575},{"s":"S","x":6.67,"y":0.585},{"s":"S","x":7.33,"y":0.59},{"s":"S","x":8,"y":0.595},{"s":"S","x":8.67,"y":0.6},{"s":"S","x":9.33,"y":0.605},{"s":"S","x":10,"y":0.61},
{"s":"C","x":2,"y":0.725},{"s":"C","x":2.67,"y":0.725},{"s":"C","x":3.33,"y":0.72},{"s":"C","x":4,"y":0.72},{"s":"C","x":4.67,"y":0.715},{"s":"C","x":5.33,"y":0.715},{"s":"C","x":6,"y":0.71},{"s":"C","x":6.67,"y":0.71},{"s":"C","x":7.33,"y":0.71},{"s":"C","x":8,"y":0.705},{"s":"C","x":8.67,"y":0.705},{"s":"C","x":9.33,"y":0.705},{"s":"C","x":10,"y":0.705},
{"s":"N","x":2,"y":0.715},{"s":"N","x":2.67,"y":0.715},{"s":"N","x":3.33,"y":0.71},{"s":"N","x":4,"y":0.71},{"s":"N","x":4.67,"y":0.705},{"s":"N","x":5.33,"y":0.7},{"s":"N","x":6,"y":0.695},{"s":"N","x":6.67,"y":0.69},{"s":"N","x":7.33,"y":0.685},{"s":"N","x":8,"y":0.68},{"s":"N","x":8.67,"y":0.675},{"s":"N","x":9.33,"y":0.67},{"s":"N","x":10,"y":0.665},
{"s":"SA","x":2,"y":0.745},{"s":"SA","x":2.67,"y":0.75},{"s":"SA","x":3.33,"y":0.745},{"s":"SA","x":4,"y":0.745},{"s":"SA","x":4.67,"y":0.745},{"s":"SA","x":5.33,"y":0.74},{"s":"SA","x":6,"y":0.74},{"s":"SA","x":6.67,"y":0.74},{"s":"SA","x":7.33,"y":0.735},{"s":"SA","x":8,"y":0.735},{"s":"SA","x":8.67,"y":0.735},{"s":"SA","x":9.33,"y":0.735},{"s":"SA","x":10,"y":0.735},
{"s":"SP","x":2,"y":0.705},{"s":"SP","x":2.67,"y":0.705},{"s":"SP","x":3.33,"y":0.7},{"s":"SP","x":4,"y":0.7},{"s":"SP","x":4.67,"y":0.695},{"s":"SP","x":5.33,"y":0.69},{"s":"SP","x":6,"y":0.68},{"s":"SP","x":6.67,"y":0.67},{"s":"SP","x":7.33,"y":0.66},{"s":"SP","x":8,"y":0.65},{"s":"SP","x":8.67,"y":0.64},{"s":"SP","x":9.33,"y":0.63},{"s":"SP","x":10,"y":0.62},
{"s":"SU","x":2,"y":0.73},{"s":"SU","x":2.67,"y":0.73},{"s":"SU","x":3.33,"y":0.73},{"s":"SU","x":4,"y":0.725},{"s":"SU","x":4.67,"y":0.725},{"s":"SU","x":5.33,"y":0.725},{"s":"SU","x":6,"y":0.72},{"s":"SU","x":6.67,"y":0.715},{"s":"SU","x":7.33,"y":0.71},{"s":"SU","x":8,"y":0.705},{"s":"SU","x":8.67,"y":0.7},{"s":"SU","x":9.33,"y":0.695},{"s":"SU","x":10,"y":0.69}
]},
"transform": [{"lookup": "s", "from": {"data": {"values": [{"s":"AE","e":0.015},{"s":"S","e":0.05},{"s":"C","e":0.02},{"s":"N","e":0.01},{"s":"SA","e":0.01},{"s":"SP","e":0.015},{"s":"SU","e":0.01}]}, "key": "s", "fields": ["e"]}}],
"encoding": {
"x": {"field": "x", "type": "quantitative", "scale": {"domain": [1.5, 10.5], "nice": false, "zero": false}, "axis": {"values": [2.5, 5, 7.5, 10], "format": ".1f", "title": "std"}},
"y": {"field": "y", "type": "quantitative", "scale": {"domain": [0.5, 0.8], "nice": false, "zero": false}, "axis": {"values": [0.5, 0.6, 0.7, 0.8], "format": ".1f", "title": null}},
"color": {"field": "s", "type": "nominal", "scale": {"domain": ["AE","S","C","N","SA","SP","SU"]}}
},
"layer": [
{"mark": {"type": "errorband", "clip": true, "band": {"opacity": 0.18}}, "encoding": {"yError": {"field": "e"}}},
{"mark": {"type": "line", "clip": true, "strokeWidth": 1.2, "strokeDash": [3.5, 1.5]}},
{"mark": {"type": "point", "clip": true, "filled": true, "size": 14, "stroke": "white", "strokeWidth": 0.5, "opacity": 1}}
]}
], "spacing": 27, "bounds": "flush", "resolve": {"scale": {"x": "independent", "y": "independent", "color": "shared"}, "axis": {"x": "independent", "y": "independent"}}},
{"hconcat": [
{"title": "RandomBiasField", "width": 93, "height": 60,
"data": {"values": [
{"s":"AE","x":0.1,"y":0.62},{"s":"AE","x":0.29,"y":0.535},{"s":"AE","x":0.48,"y":0.505},{"s":"AE","x":0.67,"y":0.49},{"s":"AE","x":0.86,"y":0.48},{"s":"AE","x":1.05,"y":0.48},{"s":"AE","x":1.24,"y":0.48},{"s":"AE","x":1.43,"y":0.48},{"s":"AE","x":1.62,"y":0.48},{"s":"AE","x":1.81,"y":0.48},{"s":"AE","x":2,"y":0.48},
{"s":"S","x":0.1,"y":0.545},{"s":"S","x":0.29,"y":0.555},{"s":"S","x":0.48,"y":0.535},{"s":"S","x":0.67,"y":0.525},{"s":"S","x":0.86,"y":0.52},{"s":"S","x":1.05,"y":0.52},{"s":"S","x":1.24,"y":0.52},{"s":"S","x":1.43,"y":0.52},{"s":"S","x":1.62,"y":0.515},{"s":"S","x":1.81,"y":0.51},{"s":"S","x":2,"y":0.51},
{"s":"C","x":0.1,"y":0.71},{"s":"C","x":0.29,"y":0.665},{"s":"C","x":0.48,"y":0.635},{"s":"C","x":0.67,"y":0.6},{"s":"C","x":0.86,"y":0.59},{"s":"C","x":1.05,"y":0.58},{"s":"C","x":1.24,"y":0.575},{"s":"C","x":1.43,"y":0.57},{"s":"C","x":1.62,"y":0.565},{"s":"C","x":1.81,"y":0.56},{"s":"C","x":2,"y":0.555},
{"s":"N","x":0.1,"y":0.665},{"s":"N","x":0.29,"y":0.575},{"s":"N","x":0.48,"y":0.535},{"s":"N","x":0.67,"y":0.52},{"s":"N","x":0.86,"y":0.515},{"s":"N","x":1.05,"y":0.51},{"s":"N","x":1.24,"y":0.51},{"s":"N","x":1.43,"y":0.505},{"s":"N","x":1.62,"y":0.505},{"s":"N","x":1.81,"y":0.5},{"s":"N","x":2,"y":0.5},
{"s":"SA","x":0.1,"y":0.725},{"s":"SA","x":0.29,"y":0.6},{"s":"SA","x":0.48,"y":0.55},{"s":"SA","x":0.67,"y":0.53},{"s":"SA","x":0.86,"y":0.52},{"s":"SA","x":1.05,"y":0.515},{"s":"SA","x":1.24,"y":0.51},{"s":"SA","x":1.43,"y":0.505},{"s":"SA","x":1.62,"y":0.5},{"s":"SA","x":1.81,"y":0.5},{"s":"SA","x":2,"y":0.5},
{"s":"SP","x":0.1,"y":0.685},{"s":"SP","x":0.29,"y":0.62},{"s":"SP","x":0.48,"y":0.57},{"s":"SP","x":0.67,"y":0.545},{"s":"SP","x":0.86,"y":0.54},{"s":"SP","x":1.05,"y":0.535},{"s":"SP","x":1.24,"y":0.535},{"s":"SP","x":1.43,"y":0.53},{"s":"SP","x":1.62,"y":0.52},{"s":"SP","x":1.81,"y":0.515},{"s":"SP","x":2,"y":0.51},
{"s":"SU","x":0.1,"y":0.645},{"s":"SU","x":0.29,"y":0.58},{"s":"SU","x":0.48,"y":0.555},{"s":"SU","x":0.67,"y":0.535},{"s":"SU","x":0.86,"y":0.525},{"s":"SU","x":1.05,"y":0.52},{"s":"SU","x":1.24,"y":0.52},{"s":"SU","x":1.43,"y":0.515},{"s":"SU","x":1.62,"y":0.515},{"s":"SU","x":1.81,"y":0.51},{"s":"SU","x":2,"y":0.51}
]},
"transform": [{"lookup": "s", "from": {"data": {"values": [{"s":"AE","e":0.03},{"s":"S","e":0.04},{"s":"C","e":0.05},{"s":"N","e":0.02},{"s":"SA","e":0.02},{"s":"SP","e":0.03},{"s":"SU","e":0.02}]}, "key": "s", "fields": ["e"]}}],
"encoding": {
"x": {"field": "x", "type": "quantitative", "scale": {"domain": [0, 2.1], "nice": false, "zero": false}, "axis": {"values": [1, 2], "title": "coefficients"}},
"y": {"field": "y", "type": "quantitative", "scale": {"domain": [0.5, 0.8], "nice": false, "zero": false}, "axis": {"values": [0.5, 0.6, 0.7, 0.8], "format": ".1f", "title": "ROCAUC"}},
"color": {"field": "s", "type": "nominal", "scale": {"domain": ["AE","S","C","N","SA","SP","SU"]}}
},
"layer": [
{"mark": {"type": "errorband", "clip": true, "band": {"opacity": 0.18}}, "encoding": {"yError": {"field": "e"}}},
{"mark": {"type": "line", "clip": true, "strokeWidth": 1.2, "strokeDash": [3.5, 1.5]}},
{"mark": {"type": "point", "clip": true, "filled": true, "size": 14, "stroke": "white", "strokeWidth": 0.5, "opacity": 1}}
]},
{"title": "RandomBiasField", "width": 93, "height": 60,
"data": {"values": [
{"s":"AE","x":1,"y":0.535},{"s":"AE","x":2,"y":0.525},{"s":"AE","x":3,"y":0.5},{"s":"AE","x":4,"y":0.49},{"s":"AE","x":5,"y":0.48},{"s":"AE","x":6,"y":0.48},{"s":"AE","x":7,"y":0.48},{"s":"AE","x":8,"y":0.48},
{"s":"S","x":1,"y":0.555},{"s":"S","x":2,"y":0.555},{"s":"S","x":3,"y":0.56},{"s":"S","x":4,"y":0.565},{"s":"S","x":5,"y":0.57},{"s":"S","x":6,"y":0.575},{"s":"S","x":7,"y":0.575},{"s":"S","x":8,"y":0.58},
{"s":"C","x":1,"y":0.655},{"s":"C","x":2,"y":0.655},{"s":"C","x":3,"y":0.63},{"s":"C","x":4,"y":0.63},{"s":"C","x":5,"y":0.625},{"s":"C","x":6,"y":0.625},{"s":"C","x":7,"y":0.625},{"s":"C","x":8,"y":0.62},
{"s":"N","x":1,"y":0.56},{"s":"N","x":2,"y":0.545},{"s":"N","x":3,"y":0.52},{"s":"N","x":4,"y":0.52},{"s":"N","x":5,"y":0.51},{"s":"N","x":6,"y":0.51},{"s":"N","x":7,"y":0.52},{"s":"N","x":8,"y":0.535},
{"s":"SA","x":1,"y":0.64},{"s":"SA","x":2,"y":0.615},{"s":"SA","x":3,"y":0.57},{"s":"SA","x":4,"y":0.55},{"s":"SA","x":5,"y":0.54},{"s":"SA","x":6,"y":0.53},{"s":"SA","x":7,"y":0.52},{"s":"SA","x":8,"y":0.51},
{"s":"SP","x":1,"y":0.615},{"s":"SP","x":2,"y":0.605},{"s":"SP","x":3,"y":0.56},{"s":"SP","x":4,"y":0.54},{"s":"SP","x":5,"y":0.52},{"s":"SP","x":6,"y":0.52},{"s":"SP","x":7,"y":0.5},{"s":"SP","x":8,"y":0.5},
{"s":"SU","x":1,"y":0.585},{"s":"SU","x":2,"y":0.57},{"s":"SU","x":3,"y":0.55},{"s":"SU","x":4,"y":0.555},{"s":"SU","x":5,"y":0.535},{"s":"SU","x":6,"y":0.54},{"s":"SU","x":7,"y":0.52},{"s":"SU","x":8,"y":0.515}
]},
"transform": [{"lookup": "s", "from": {"data": {"values": [{"s":"AE","e":0.03},{"s":"S","e":0.04},{"s":"C","e":0.05},{"s":"N","e":0.03},{"s":"SA","e":0.03},{"s":"SP","e":0.04},{"s":"SU","e":0.03}]}, "key": "s", "fields": ["e"]}}],
"encoding": {
"x": {"field": "x", "type": "quantitative", "scale": {"domain": [0.65, 8.35], "nice": false, "zero": false}, "axis": {"values": [2, 4, 6, 8], "title": "order"}},
"y": {"field": "y", "type": "quantitative", "scale": {"domain": [0.5, 0.8], "nice": false, "zero": false}, "axis": {"values": [0.5, 0.6, 0.7, 0.8], "format": ".1f", "title": null}},
"color": {"field": "s", "type": "nominal", "scale": {"domain": ["AE","S","C","N","SA","SP","SU"]}}
},
"layer": [
{"mark": {"type": "errorband", "clip": true, "band": {"opacity": 0.18}}, "encoding": {"yError": {"field": "e"}}},
{"mark": {"type": "line", "clip": true, "strokeWidth": 1.2, "strokeDash": [3.5, 1.5]}},
{"mark": {"type": "point", "clip": true, "filled": true, "size": 14, "stroke": "white", "strokeWidth": 0.5, "opacity": 1}}
]},
{"title": "RandomNoise", "width": 93, "height": 60,
"data": {"values": [
{"s":"AE","x":-2,"y":0.67},{"s":"AE","x":-1.67,"y":0.675},{"s":"AE","x":-1.33,"y":0.675},{"s":"AE","x":-1,"y":0.675},{"s":"AE","x":-0.67,"y":0.675},{"s":"AE","x":-0.33,"y":0.68},{"s":"AE","x":0,"y":0.685},{"s":"AE","x":0.33,"y":0.685},{"s":"AE","x":0.67,"y":0.685},{"s":"AE","x":1,"y":0.68},{"s":"AE","x":1.33,"y":0.675},{"s":"AE","x":1.67,"y":0.665},{"s":"AE","x":2,"y":0.64},
{"s":"S","x":-2,"y":0.505},{"s":"S","x":-1.67,"y":0.515},{"s":"S","x":-1.33,"y":0.525},{"s":"S","x":-1,"y":0.53},{"s":"S","x":-0.67,"y":0.535},{"s":"S","x":-0.33,"y":0.54},{"s":"S","x":0,"y":0.545},{"s":"S","x":0.33,"y":0.55},{"s":"S","x":0.67,"y":0.545},{"s":"S","x":1,"y":0.545},{"s":"S","x":1.33,"y":0.54},{"s":"S","x":1.67,"y":0.54},{"s":"S","x":2,"y":0.54},
{"s":"C","x":-2,"y":0.685},{"s":"C","x":-1.67,"y":0.695},{"s":"C","x":-1.33,"y":0.7},{"s":"C","x":-1,"y":0.71},{"s":"C","x":-0.67,"y":0.715},{"s":"C","x":-0.33,"y":0.72},{"s":"C","x":0,"y":0.72},{"s":"C","x":0.33,"y":0.715},{"s":"C","x":0.67,"y":0.715},{"s":"C","x":1,"y":0.71},{"s":"C","x":1.33,"y":0.71},{"s":"C","x":1.67,"y":0.705},{"s":"C","x":2,"y":0.7},
{"s":"N","x":-2,"y":0.63},{"s":"N","x":-1.67,"y":0.655},{"s":"N","x":-1.33,"y":0.67},{"s":"N","x":-1,"y":0.685},{"s":"N","x":-0.67,"y":0.695},{"s":"N","x":-0.33,"y":0.705},{"s":"N","x":0,"y":0.7},{"s":"N","x":0.33,"y":0.69},{"s":"N","x":0.67,"y":0.68},{"s":"N","x":1,"y":0.665},{"s":"N","x":1.33,"y":0.65},{"s":"N","x":1.67,"y":0.635},{"s":"N","x":2,"y":0.615},
{"s":"SA","x":-2,"y":0.715},{"s":"SA","x":-1.67,"y":0.725},{"s":"SA","x":-1.33,"y":0.73},{"s":"SA","x":-1,"y":0.735},{"s":"SA","x":-0.67,"y":0.74},{"s":"SA","x":-0.33,"y":0.745},{"s":"SA","x":0,"y":0.745},{"s":"SA","x":0.33,"y":0.74},{"s":"SA","x":0.67,"y":0.74},{"s":"SA","x":1,"y":0.74},{"s":"SA","x":1.33,"y":0.74},{"s":"SA","x":1.67,"y":0.74},{"s":"SA","x":2,"y":0.735},
{"s":"SP","x":-2,"y":0.65},{"s":"SP","x":-1.67,"y":0.665},{"s":"SP","x":-1.33,"y":0.67},{"s":"SP","x":-1,"y":0.66},{"s":"SP","x":-0.67,"y":0.625},{"s":"SP","x":-0.33,"y":0.685},{"s":"SP","x":0,"y":0.705},{"s":"SP","x":0.33,"y":0.675},{"s":"SP","x":0.67,"y":0.645},{"s":"SP","x":1,"y":0.62},{"s":"SP","x":1.33,"y":0.6},{"s":"SP","x":1.67,"y":0.585},{"s":"SP","x":2,"y":0.56},
{"s":"SU","x":-2,"y":0.595},{"s":"SU","x":-1.67,"y":0.595},{"s":"SU","x":-1.33,"y":0.6},{"s":"SU","x":-1,"y":0.61},{"s":"SU","x":-0.67,"y":0.65},{"s":"SU","x":-0.33,"y":0.68},{"s":"SU","x":0,"y":0.71},{"s":"SU","x":0.33,"y":0.7},{"s":"SU","x":0.67,"y":0.69},{"s":"SU","x":1,"y":0.68},{"s":"SU","x":1.33,"y":0.675},{"s":"SU","x":1.67,"y":0.67},{"s":"SU","x":2,"y":0.65}
]},
"transform": [{"lookup": "s", "from": {"data": {"values": [{"s":"AE","e":0.02},{"s":"S","e":0.05},{"s":"C","e":0.03},{"s":"N","e":0.02},{"s":"SA","e":0.02},{"s":"SP","e":0.03},{"s":"SU","e":0.02}]}, "key": "s", "fields": ["e"]}}],
"encoding": {
"x": {"field": "x", "type": "quantitative", "scale": {"domain": [-2.15, 2.15], "nice": false, "zero": false}, "axis": {"values": [-2, 0, 2], "title": "mean"}},
"y": {"field": "y", "type": "quantitative", "scale": {"domain": [0.5, 0.8], "nice": false, "zero": false}, "axis": {"values": [0.5, 0.6, 0.7, 0.8], "format": ".1f", "title": null}},
"color": {"field": "s", "type": "nominal", "scale": {"domain": ["AE","S","C","N","SA","SP","SU"]}}
},
"layer": [
{"mark": {"type": "errorband", "clip": true, "band": {"opacity": 0.18}}, "encoding": {"yError": {"field": "e"}}},
{"mark": {"type": "line", "clip": true, "strokeWidth": 1.2, "strokeDash": [3.5, 1.5]}},
{"mark": {"type": "point", "clip": true, "filled": true, "size": 14, "stroke": "white", "strokeWidth": 0.5, "opacity": 1}}
]},
{"title": "RandomNoise", "width": 93, "height": 60,
"data": {"values": [
{"s":"AE","x":0,"y":0.685},{"s":"AE","x":0.17,"y":0.685},{"s":"AE","x":0.33,"y":0.69},{"s":"AE","x":0.5,"y":0.69},{"s":"AE","x":0.67,"y":0.69},{"s":"AE","x":0.83,"y":0.69},{"s":"AE","x":1,"y":0.69},{"s":"AE","x":1.17,"y":0.69},{"s":"AE","x":1.33,"y":0.69},{"s":"AE","x":1.5,"y":0.69},{"s":"AE","x":1.67,"y":0.695},{"s":"AE","x":1.83,"y":0.695},{"s":"AE","x":2,"y":0.695},
{"s":"S","x":0,"y":0.545},{"s":"S","x":0.17,"y":0.545},{"s":"S","x":0.33,"y":0.545},{"s":"S","x":0.5,"y":0.545},{"s":"S","x":0.67,"y":0.545},{"s":"S","x":0.83,"y":0.545},{"s":"S","x":1,"y":0.54},{"s":"S","x":1.17,"y":0.54},{"s":"S","x":1.33,"y":0.54},{"s":"S","x":1.5,"y":0.535},{"s":"S","x":1.67,"y":0.535},{"s":"S","x":1.83,"y":0.535},{"s":"S","x":2,"y":0.53},
{"s":"C","x":0,"y":0.73},{"s":"C","x":0.17,"y":0.73},{"s":"C","x":0.33,"y":0.73},{"s":"C","x":0.5,"y":0.73},{"s":"C","x":0.67,"y":0.725},{"s":"C","x":0.83,"y":0.725},{"s":"C","x":1,"y":0.72},{"s":"C","x":1.17,"y":0.72},{"s":"C","x":1.33,"y":0.72},{"s":"C","x":1.5,"y":0.72},{"s":"C","x":1.67,"y":0.715},{"s":"C","x":1.83,"y":0.715},{"s":"C","x":2,"y":0.715},
{"s":"N","x":0,"y":0.695},{"s":"N","x":0.17,"y":0.69},{"s":"N","x":0.33,"y":0.685},{"s":"N","x":0.5,"y":0.675},{"s":"N","x":0.67,"y":0.665},{"s":"N","x":0.83,"y":0.66},{"s":"N","x":1,"y":0.65},{"s":"N","x":1.17,"y":0.64},{"s":"N","x":1.33,"y":0.63},{"s":"N","x":1.5,"y":0.62},{"s":"N","x":1.67,"y":0.61},{"s":"N","x":1.83,"y":0.6},{"s":"N","x":2,"y":0.59},
{"s":"SA","x":0,"y":0.745},{"s":"SA","x":0.17,"y":0.745},{"s":"SA","x":0.33,"y":0.74},{"s":"SA","x":0.5,"y":0.74},{"s":"SA","x":0.67,"y":0.74},{"s":"SA","x":0.83,"y":0.74},{"s":"SA","x":1,"y":0.735},{"s":"SA","x":1.17,"y":0.735},{"s":"SA","x":1.33,"y":0.735},{"s":"SA","x":1.5,"y":0.73},{"s":"SA","x":1.67,"y":0.73},{"s":"SA","x":1.83,"y":0.73},{"s":"SA","x":2,"y":0.725},
{"s":"SP","x":0,"y":0.705},{"s":"SP","x":0.17,"y":0.705},{"s":"SP","x":0.33,"y":0.705},{"s":"SP","x":0.5,"y":0.705},{"s":"SP","x":0.67,"y":0.705},{"s":"SP","x":0.83,"y":0.71},{"s":"SP","x":1,"y":0.71},{"s":"SP","x":1.17,"y":0.71},{"s":"SP","x":1.33,"y":0.71},{"s":"SP","x":1.5,"y":0.71},{"s":"SP","x":1.67,"y":0.71},{"s":"SP","x":1.83,"y":0.71},{"s":"SP","x":2,"y":0.71},
{"s":"SU","x":0,"y":0.725},{"s":"SU","x":0.17,"y":0.725},{"s":"SU","x":0.33,"y":0.72},{"s":"SU","x":0.5,"y":0.715},{"s":"SU","x":0.67,"y":0.71},{"s":"SU","x":0.83,"y":0.705},{"s":"SU","x":1,"y":0.7},{"s":"SU","x":1.17,"y":0.695},{"s":"SU","x":1.33,"y":0.685},{"s":"SU","x":1.5,"y":0.675},{"s":"SU","x":1.67,"y":0.665},{"s":"SU","x":1.83,"y":0.655},{"s":"SU","x":2,"y":0.645}
]},
"transform": [{"lookup": "s", "from": {"data": {"values": [{"s":"AE","e":0.015},{"s":"S","e":0.05},{"s":"C","e":0.03},{"s":"N","e":0.03},{"s":"SA","e":0.015},{"s":"SP","e":0.03},{"s":"SU","e":0.02}]}, "key": "s", "fields": ["e"]}}],
"encoding": {
"x": {"field": "x", "type": "quantitative", "scale": {"domain": [-0.07, 2.07], "nice": false, "zero": false}, "axis": {"values": [0, 1, 2], "title": "std"}},
"y": {"field": "y", "type": "quantitative", "scale": {"domain": [0.5, 0.8], "nice": false, "zero": false}, "axis": {"values": [0.5, 0.6, 0.7, 0.8], "format": ".1f", "title": null}},
"color": {"field": "s", "type": "nominal", "scale": {"domain": ["AE","S","C","N","SA","SP","SU"]}}
},
"layer": [
{"mark": {"type": "errorband", "clip": true, "band": {"opacity": 0.18}}, "encoding": {"yError": {"field": "e"}}},
{"mark": {"type": "line", "clip": true, "strokeWidth": 1.2, "strokeDash": [3.5, 1.5]}},
{"mark": {"type": "point", "clip": true, "filled": true, "size": 14, "stroke": "white", "strokeWidth": 0.5, "opacity": 1}}
]},
{"title": "RandomGamma", "width": 93, "height": 60,
"data": {"values": [
{"s":"AE","x":-0.83,"y":0.66},{"s":"AE","x":-0.69,"y":0.665},{"s":"AE","x":-0.55,"y":0.665},{"s":"AE","x":-0.41,"y":0.67},{"s":"AE","x":-0.27,"y":0.675},{"s":"AE","x":-0.13,"y":0.68},{"s":"AE","x":0,"y":0.685},{"s":"AE","x":0.14,"y":0.685},{"s":"AE","x":0.28,"y":0.685},{"s":"AE","x":0.42,"y":0.68},{"s":"AE","x":0.57,"y":0.675},{"s":"AE","x":0.71,"y":0.665},{"s":"AE","x":0.85,"y":0.66},
{"s":"S","x":-0.83,"y":0.55},{"s":"S","x":-0.69,"y":0.56},{"s":"S","x":-0.55,"y":0.545},{"s":"S","x":-0.41,"y":0.54},{"s":"S","x":-0.27,"y":0.54},{"s":"S","x":-0.13,"y":0.54},{"s":"S","x":0,"y":0.545},{"s":"S","x":0.14,"y":0.545},{"s":"S","x":0.28,"y":0.54},{"s":"S","x":0.42,"y":0.535},{"s":"S","x":0.57,"y":0.525},{"s":"S","x":0.71,"y":0.525},{"s":"S","x":0.85,"y":0.52},
{"s":"C","x":-0.83,"y":0.62},{"s":"C","x":-0.69,"y":0.635},{"s":"C","x":-0.55,"y":0.65},{"s":"C","x":-0.41,"y":0.67},{"s":"C","x":-0.27,"y":0.69},{"s":"C","x":-0.13,"y":0.72},{"s":"C","x":0,"y":0.73},{"s":"C","x":0.14,"y":0.725},{"s":"C","x":0.28,"y":0.72},{"s":"C","x":0.42,"y":0.715},{"s":"C","x":0.57,"y":0.71},{"s":"C","x":0.71,"y":0.705},{"s":"C","x":0.85,"y":0.7},
{"s":"N","x":-0.83,"y":0.585},{"s":"N","x":-0.69,"y":0.605},{"s":"N","x":-0.55,"y":0.625},{"s":"N","x":-0.41,"y":0.65},{"s":"N","x":-0.27,"y":0.675},{"s":"N","x":-0.13,"y":0.7},{"s":"N","x":0,"y":0.72},{"s":"N","x":0.14,"y":0.715},{"s":"N","x":0.28,"y":0.71},{"s":"N","x":0.42,"y":0.705},{"s":"N","x":0.57,"y":0.705},{"s":"N","x":0.71,"y":0.7},{"s":"N","x":0.85,"y":0.7},
{"s":"SA","x":-0.83,"y":0.645},{"s":"SA","x":-0.69,"y":0.66},{"s":"SA","x":-0.55,"y":0.675},{"s":"SA","x":-0.41,"y":0.69},{"s":"SA","x":-0.27,"y":0.71},{"s":"SA","x":-0.13,"y":0.735},{"s":"SA","x":0,"y":0.745},{"s":"SA","x":0.14,"y":0.74},{"s":"SA","x":0.28,"y":0.74},{"s":"SA","x":0.42,"y":0.735},{"s":"SA","x":0.57,"y":0.735},{"s":"SA","x":0.71,"y":0.73},{"s":"SA","x":0.85,"y":0.73},
{"s":"SP","x":-0.83,"y":0.6},{"s":"SP","x":-0.69,"y":0.62},{"s":"SP","x":-0.55,"y":0.64},{"s":"SP","x":-0.41,"y":0.66},{"s":"SP","x":-0.27,"y":0.685},{"s":"SP","x":-0.13,"y":0.71},{"s":"SP","x":0,"y":0.715},{"s":"SP","x":0.14,"y":0.71},{"s":"SP","x":0.28,"y":0.705},{"s":"SP","x":0.42,"y":0.7},{"s":"SP","x":0.57,"y":0.695},{"s":"SP","x":0.71,"y":0.69},{"s":"SP","x":0.85,"y":0.685},
{"s":"SU","x":-0.83,"y":0.66},{"s":"SU","x":-0.69,"y":0.675},{"s":"SU","x":-0.55,"y":0.685},{"s":"SU","x":-0.41,"y":0.7},{"s":"SU","x":-0.27,"y":0.71},{"s":"SU","x":-0.13,"y":0.725},{"s":"SU","x":0,"y":0.74},{"s":"SU","x":0.14,"y":0.74},{"s":"SU","x":0.28,"y":0.73},{"s":"SU","x":0.42,"y":0.725},{"s":"SU","x":0.57,"y":0.72},{"s":"SU","x":0.71,"y":0.71},{"s":"SU","x":0.85,"y":0.705}
]},
"transform": [{"lookup": "s", "from": {"data": {"values": [{"s":"AE","e":0.02},{"s":"S","e":0.05},{"s":"C","e":0.02},{"s":"N","e":0.02},{"s":"SA","e":0.02},{"s":"SP","e":0.02},{"s":"SU","e":0.02}]}, "key": "s", "fields": ["e"]}}],
"encoding": {
"x": {"field": "x", "type": "quantitative", "scale": {"domain": [-0.9, 0.92], "nice": false, "zero": false}, "axis": {"values": [-0.5, 0, 0.5], "format": ".1f", "title": "log_gamma"}},
"y": {"field": "y", "type": "quantitative", "scale": {"domain": [0.5, 0.8], "nice": false, "zero": false}, "axis": {"values": [0.5, 0.6, 0.7, 0.8], "format": ".1f", "title": null}},
"color": {"field": "s", "type": "nominal", "scale": {"domain": ["AE","S","C","N","SA","SP","SU"]}}
},
"layer": [
{"mark": {"type": "errorband", "clip": true, "band": {"opacity": 0.18}}, "encoding": {"yError": {"field": "e"}}},
{"mark": {"type": "line", "clip": true, "strokeWidth": 1.2, "strokeDash": [3.5, 1.5]}},
{"mark": {"type": "point", "clip": true, "filled": true, "size": 14, "stroke": "white", "strokeWidth": 0.5, "opacity": 1}}
]}
], "spacing": 27, "bounds": "flush", "resolve": {"scale": {"x": "independent", "y": "independent", "color": "shared"}, "axis": {"x": "independent", "y": "independent"}}}
],
"config": {
"font": "DejaVu Sans",
"view": {"stroke": "#d0d0d0", "strokeWidth": 1},
"range": {"category": ["#1f77b4","#ff7f0e","#2ca02c","#d62728","#9467bd","#8c564b","#e377c2"]},
"axis": {"grid": true, "gridColor": "#e5e5e5", "gridWidth": 1, "domain": false, "ticks": false, "labelFontSize": 8, "labelColor": "#333333", "titleFontSize": 8, "titleFontWeight": "normal", "titleColor": "#333333", "labelPadding": 3, "titlePadding": 2},
"title": {"fontSize": 9.5, "fontWeight": "normal", "color": "#262626", "offset": 2},
"legend": {"strokeColor": "#cccccc", "fillColor": "white", "padding": 4, "cornerRadius": 3, "labelFontSize": 7.5, "labelColor": "#333333", "symbolSize": 225, "symbolStrokeWidth": 1.5, "columnPadding": 7, "labelOffset": 4}
}
}
